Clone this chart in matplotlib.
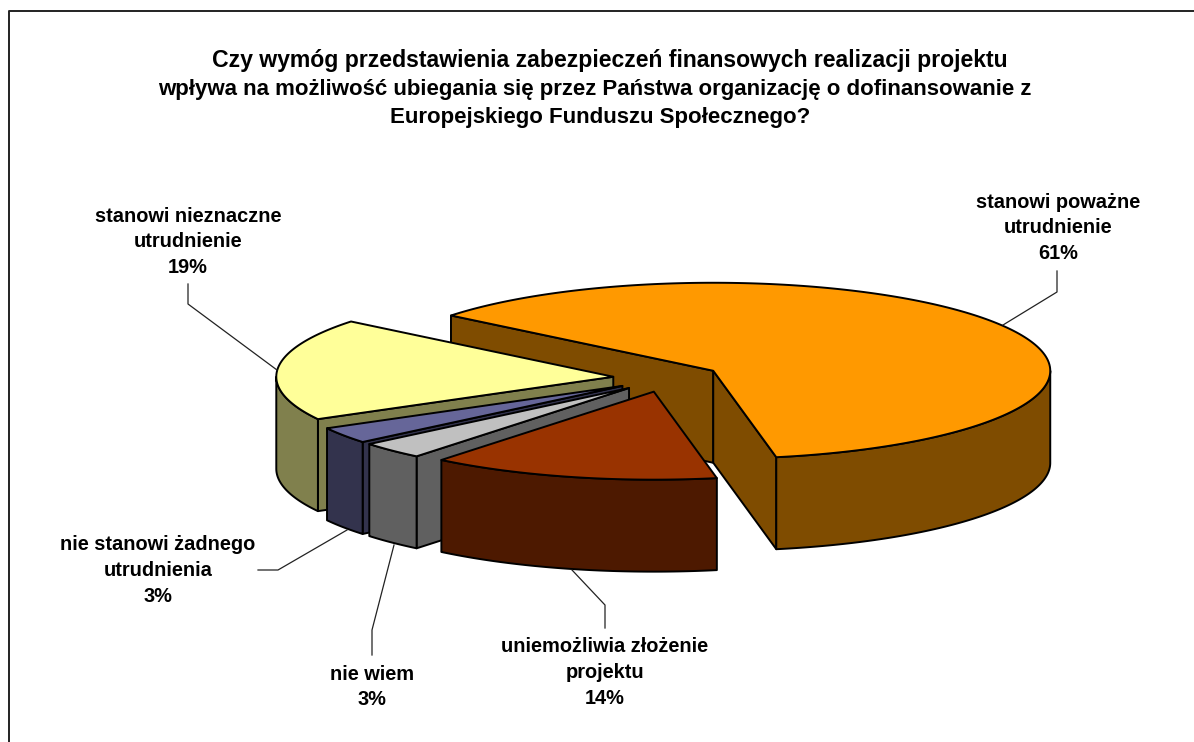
import numpy as np
from matplotlib import pyplot as plt
from matplotlib.patches import Polygon

plt.rcParams['font.family'] = ['Liberation Sans', 'DejaVu Sans']

title_lines = [
    'Czy wymóg przedstawienia zabezpieczeń finansowych realizacji projektu',
    'wpływa na możliwość ubiegania się przez Państwa organizację o dofinansowanie z',
    'Europejskiego Funduszu Społecznego?',
]
# the source lines are not quite centred on each other
title_x = [610, 595, 600]
title_size = [16.55, 16.05, 16.05]
categories = [
    'stanowi poważne\nutrudnienie',
    'uniemożliwia złożenie\nprojektu',
    'nie wiem',
    'nie stanowi żadnego\nutrudnienia',
    'stanowi nieznaczne\nutrudnienie',
]
# labels show them rounded
values = [61.2, 13.85, 3.15, 3.0, 18.8]
top_colors = ['#FF9900', '#993300', '#C0C0C0', '#666699', '#FFFF99']
side_colors = ['#7F4C00', '#4D1900', '#606060', '#33334D', '#80804D']

# label anchor (centre x, first line y) and leader line for each slice, in pixels
label_pos = [(1058, 202), (605, 647), (372, 674), (158, 545), (188, 216)]
leaders = [
    [(1003, 325), (1057, 292), (1057, 271)],
    [(572, 570), (605, 605), (605, 628)],
    [(394, 545), (372, 630), (372, 655)],
    [(347, 530), (278, 570), (258, 570)],
    [(277, 370), (188, 304), (188, 284)],
]

# pie geometry in pixels
cx, cy = 667, 378
rx, ry = 337, 88
depth = 92
explode = 0.16
start_angle = -51.1
edge = dict(edgecolor='black', linewidth=1.4, joinstyle='round')
# back to front
draw_order = [0, 4, 3, 2, 1]


def pt(center, angle):
    # angle is clockwise from the top of the pie
    a = np.radians(angle)
    return center[0] + rx * np.sin(a), center[1] - ry * np.cos(a)


def arc(center, a0, a1):
    t = np.linspace(a0, a1, 200)
    return np.column_stack(pt(center, t))


def wall(ax, pts, color):
    pts = np.asarray(pts)
    low = pts[::-1] + [0, depth]
    ax.add_patch(Polygon(np.vstack([pts, low]), closed=True, facecolor=color, **edge))


def draw_slice(ax, a0, a1, top, side):
    mid = (a0 + a1) / 2
    center = (cx + explode * (pt((0, 0), mid)[0]), cy + explode * (pt((0, 0), mid)[1]))
    # radial walls that face the viewer
    if np.cos(np.radians(a0 - 90)) < 0:
        wall(ax, [center, pt(center, a0)], side)
    if np.cos(np.radians(a1 + 90)) < 0:
        wall(ax, [center, pt(center, a1)], side)
    # outer wall, only the front half of the ellipse shows
    lo, hi = max(a0, 90), min(a1, 270)
    if lo < hi:
        wall(ax, arc(center, lo, hi), side)
    ax.add_patch(Polygon(np.vstack([[center], arc(center, a0, a1)]), closed=True, facecolor=top, **edge))


fig = plt.figure(figsize=(11.94, 7.42), dpi=100)
ax = fig.add_axes([0, 0, 1, 1])
ax.set_xlim(0, 1194)
ax.set_ylim(742, 0)
ax.axis('off')

# chart frame, right and bottom sides are cropped in the source
ax.plot([9, 9, 1194], [742, 11, 11], color='#222222', lw=1.4)

bounds = start_angle + np.concatenate([[0], np.cumsum(values)]) * 360 / sum(values)

for i, name in enumerate(categories):
    xs, ys = zip(*leaders[i])
    ax.plot(xs, ys, color='#222222', lw=0.9)
    lines = name.split('\n') + [f'{values[i]:.0f}%']
    for j, line in enumerate(lines):
        ax.text(label_pos[i][0], label_pos[i][1] + j * 25.8, line, ha='center', va='center',
                fontsize=14.4, fontweight='bold')

for i in draw_order:
    draw_slice(ax, bounds[i], bounds[i + 1], top_colors[i], side_colors[i])

for j, line in enumerate(title_lines):
    ax.text(title_x[j], 61 + j * 28.5, line, ha='center', va='center', fontsize=title_size[j], fontweight='bold')

fig.savefig('out.png', dpi=100)
